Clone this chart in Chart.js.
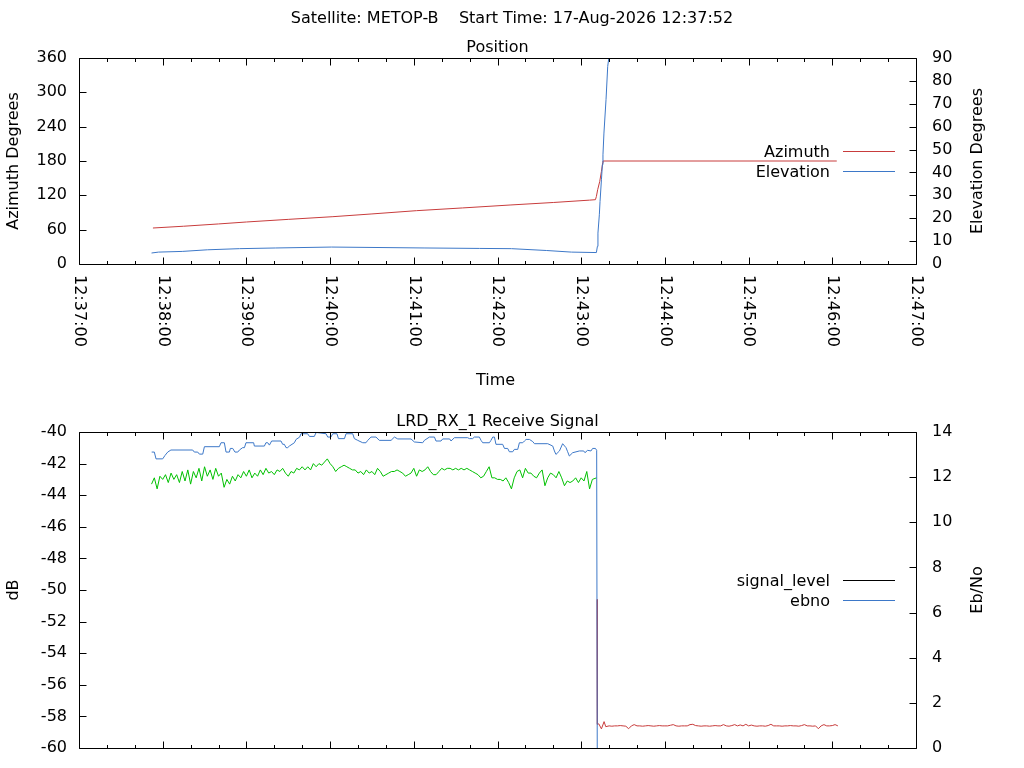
<!DOCTYPE html>
<html>
<head>
<meta charset="utf-8">
<title>METOP-B pass</title>
<script src="https://cdn.jsdelivr.net/npm/chart.js@4.4.1/dist/chart.umd.min.js"></script>
<style>
  html, body { margin: 0; padding: 0; background: #fff; }
  #wrap { position: relative; width: 1024px; height: 768px; overflow: hidden; }
  canvas { position: absolute; left: 0; top: 0; }
</style>
</head>
<body>
<div id="wrap">
  <canvas id="position-canvas" width="1024" height="768"></canvas>
  <canvas id="signal-canvas" width="1024" height="768"></canvas>
</div>
<script>
// Times are seconds after 12:37:00.
const timeTickValues = [0, 60, 120, 180, 240, 300, 360, 420, 480, 540, 600];
const timeTickLabels = ['12:37:00', '12:38:00', '12:39:00', '12:40:00', '12:41:00', '12:42:00',
  '12:43:00', '12:44:00', '12:45:00', '12:46:00', '12:47:00'];

// --- Position panel ---
const azimuthTimes = [53, 75, 100, 120, 150, 182, 210, 242, 275, 309, 340, 366,
  370.2, 370.9, 371.8, 373.3, 374.5, 375.4, 375.6, 543.2];
const azimuthDeg = [62.9, 66.0, 70.0, 73.4, 78.0, 82.7, 87.5, 93.2, 98.0, 103.1, 107.5, 111.6,
  112.4, 118.1, 129.8, 144.4, 161.8, 176.5, 180.0, 180.0];

const elevationTimes = [52, 57, 74, 92, 115, 141, 181, 248, 287, 310, 335, 353,
  370.9, 371.6, 372.0, 373.0, 373.5, 374.5, 375.2, 375.6, 376.3, 377.8, 379.0, 380.0];
const elevationDeg = [4.8, 5.2, 5.5, 6.2, 6.7, 7.0, 7.4, 7.0, 6.8, 6.7, 5.9, 5.2,
  5.0, 7.7, 13.5, 21.5, 27.3, 36.8, 43.4, 47.7, 57.2, 71.8, 86.3, 91.0];

// --- Receive signal panel (dB) ---
const blueTimes = [
  52.1, 54.0, 55.2, 60.0, 61.6, 63.6, 65.9, 81.5, 82.7, 85.1,
  86.3, 88.7, 89.9, 100.6, 101.8, 104.2, 105.4, 107.8, 108.5, 110.2,
  111.8, 113.8, 115.0, 117.3, 118.6, 119.7, 125.2, 125.7, 132.9, 134.0,
  135.3, 136.5, 138.1, 144.8, 146.0, 147.2, 148.4, 149.6, 150.8, 154.4,
  155.6, 158.2, 159.1, 163.9, 165.2, 168.7, 169.9, 171.1, 177.1, 178.3,
  180.6, 181.9, 184.9, 186.0, 190.3, 191.4, 196.2, 197.4, 199.8, 203.4,
  205.7, 207.0, 209.3, 212.9, 215.3, 223.7, 226.1, 228.5, 238.0, 240.4,
  246.4, 247.6, 251.2, 254.8, 255.9, 259.5, 260.7, 265.7, 266.7, 269.1,
  278.6, 279.9, 282.2, 283.4, 287.0, 288.2, 289.4, 294.2, 295.3, 296.6,
  297.8, 298.9, 303.7, 305.0, 307.3, 308.5, 310.9, 312.1, 314.5, 315.7,
  318.1, 319.3, 320.5, 322.9, 325.3, 326.5, 336.0, 339.6, 340.8, 341.9,
  344.4, 346.7, 349.1, 350.3, 351.5, 353.9, 358.7, 361.8, 362.7, 364.6,
  367.0, 368.2, 370.2, 371.1, 371.5];
const blueDb = [
  -41.27, -41.27, -41.70, -41.70, -41.49, -41.27, -41.14, -41.14, -41.27, -41.27,
  -41.40, -41.40, -40.93, -40.93, -40.68, -40.68, -41.27, -41.27, -41.04, -41.04,
  -41.27, -41.27, -41.14, -40.99, -40.99, -40.68, -40.68, -40.89, -40.89, -40.68,
  -40.68, -40.83, -40.57, -40.57, -40.78, -40.78, -40.99, -40.99, -40.89, -40.68,
  -40.47, -40.32, -40.11, -40.11, -40.28, -40.28, -40.04, -40.04, -40.11, -40.32,
  -40.32, -40.11, -40.11, -40.42, -40.42, -40.11, -40.11, -40.42, -40.53, -40.68,
  -40.68, -40.53, -40.32, -40.32, -40.53, -40.53, -40.32, -40.44, -40.44, -40.63,
  -40.68, -40.53, -40.32, -40.32, -40.57, -40.57, -40.44, -40.44, -40.57, -40.36,
  -40.36, -40.42, -40.42, -40.32, -40.32, -40.53, -40.68, -40.68, -40.53, -40.32,
  -40.32, -40.78, -40.78, -41.04, -41.04, -41.25, -41.25, -41.10, -41.10, -40.68,
  -40.68, -40.57, -40.47, -40.47, -40.61, -40.74, -40.74, -40.89, -41.20, -41.42,
  -41.20, -40.74, -40.99, -41.25, -41.52, -41.31, -41.20, -41.20, -41.31, -41.16,
  -41.20, -41.04, -41.04, -41.16, -60.0];

const greenTimes = [
  52, 54, 56, 58, 60, 62, 64, 66, 68, 70, 72, 74, 76, 78, 80, 82, 84, 86, 88, 90,
  92, 94, 96, 98, 100, 102, 104, 106, 108, 110, 112, 114, 116, 118, 120, 122, 124, 126, 128, 130,
  132, 134, 136, 138, 140, 142, 144, 146, 148, 150, 152, 154, 156, 158, 160, 162, 164, 166, 168, 170,
  172, 174, 176, 178, 180, 182, 184, 186, 188, 190, 192, 194, 196, 198, 200, 202, 204, 206, 208, 210,
  212, 214, 216, 218, 220, 222, 224, 226, 228, 230, 232, 234, 236, 238, 240, 242, 244, 246, 248, 250,
  252, 254, 256, 258, 260, 262, 264, 266, 268, 270, 272, 274, 276, 278, 280, 282, 284, 286, 288, 290,
  292, 294, 296, 298, 300, 302, 304, 306, 308, 310, 312, 314, 316, 318, 320, 322, 324, 326, 328, 330,
  332, 334, 336, 338, 340, 342, 344, 346, 348, 350, 352, 354, 356, 358, 360, 362, 364, 366, 368, 371];
const greenDb = [
  -43.3, -42.9, -43.6, -42.8, -43.0, -42.7, -43.2, -42.6, -43.0, -42.7,
  -43.2, -42.5, -43.1, -42.4, -43.3, -42.5, -42.9, -42.3, -43.1, -42.2,
  -42.8, -42.4, -43.0, -42.3, -42.8, -42.6, -43.5, -43.0, -43.3, -42.8,
  -43.1, -42.7, -42.9, -42.5, -42.8, -42.4, -42.9, -42.6, -42.8, -42.4,
  -42.7, -42.3, -42.6, -42.5, -42.7, -42.4, -42.5, -42.3, -42.6, -42.8,
  -42.5, -42.6, -42.3, -42.4, -42.2, -42.4, -42.2, -42.4, -42.0, -42.2,
  -42.0, -42.1, -41.9, -41.7, -42.0, -42.2, -42.5, -42.3, -42.2, -42.1,
  -42.2, -42.3, -42.4, -42.4, -42.6, -42.5, -42.7, -42.4, -42.6, -42.5,
  -42.7, -42.3, -42.5, -42.8, -42.7, -42.6, -42.5, -42.5, -42.4, -42.5,
  -42.6, -42.8, -42.7, -42.6, -42.3, -42.8, -42.4, -42.5, -42.4, -42.2,
  -42.5, -42.7, -42.7, -42.5, -42.3, -42.4, -42.3, -42.3, -42.4, -42.3,
  -42.4, -42.3, -42.4, -42.3, -42.4, -42.5, -42.6, -42.7, -42.9, -42.8,
  -42.5, -42.2, -42.9, -42.9, -43.0, -43.0, -43.1, -42.9, -43.2, -43.6,
  -42.9, -42.5, -42.4, -42.9, -42.3, -42.6, -42.6, -42.8, -42.9, -42.6,
  -42.4, -43.4, -42.9, -42.6, -42.7, -42.9, -42.5, -42.9, -43.4, -43.1,
  -43.2, -43.1, -42.9, -43.2, -42.9, -43.1, -42.5, -43.6, -43.0, -42.9];

const redTimes = [
  371.45, 371.6, 372.6, 374.5, 376.4, 377.6,
  380, 382, 384, 386, 388, 390, 392, 394, 396, 398, 400, 402, 404, 406, 408, 410, 412, 414, 416, 418,
  420, 422, 424, 426, 428, 430, 432, 434, 436, 438, 440, 442, 444, 446, 448, 450, 452, 454, 456, 458,
  460, 462, 464, 466, 468, 470, 472, 474, 476, 478, 480, 482, 484, 486, 488, 490, 492, 494, 496, 498,
  500, 502, 504, 506, 508, 510, 512, 514, 516, 518, 520, 522, 524, 526, 528, 530, 532, 534, 536, 538,
  540, 542, 544];
const redDb = [
  -50.6, -58.5, -58.47, -58.79, -58.33, -58.65,
  -58.6, -58.62, -58.6, -58.6, -58.58, -58.6, -58.62, -58.78, -58.6, -58.52,
  -58.6, -58.6, -58.62, -58.6, -58.58, -58.6, -58.62, -58.6, -58.58, -58.6,
  -58.6, -58.6, -58.56, -58.52, -58.6, -58.62, -58.6, -58.6, -58.6, -58.52,
  -58.5, -58.58, -58.6, -58.62, -58.6, -58.6, -58.62, -58.6, -58.58, -58.6,
  -58.6, -58.52, -58.6, -58.62, -58.58, -58.52, -58.6, -58.54, -58.6, -58.5,
  -58.6, -58.55, -58.6, -58.62, -58.6, -58.6, -58.62, -58.58, -58.5, -58.6,
  -58.6, -58.6, -58.62, -58.6, -58.6, -58.58, -58.6, -58.6, -58.62, -58.58,
  -58.52, -58.6, -58.6, -58.62, -58.6, -58.78, -58.6, -58.52, -58.6, -58.6,
  -58.58, -58.52, -58.6];

const positionLegendLabels = ['Azimuth', 'Elevation'];
const signalLegendLabels = ['signal_level', 'ebno'];

const RED = '#c83c3c';
const BLUE = '#3d78c8';
const GREEN = '#00c000';
const FONT_SIZE = 16;
const FONT = `${FONT_SIZE}px 'DejaVu Sans', sans-serif`;
const MAJOR_TICK = 7;
const MINOR_TICK = 3.5;

Chart.defaults.font.family = "'DejaVu Sans', sans-serif";
Chart.defaults.font.size = FONT_SIZE;
Chart.defaults.color = '#000';

function points(times, values) {
  return times.map((t, i) => ({ x: t, y: values[i] }));
}

function line(label, times, values, color, axis) {
  return {
    label,
    data: points(times, values),
    borderColor: color,
    backgroundColor: color,
    borderWidth: 1,
    pointRadius: 0,
    tension: 0,
    yAxisID: axis,
  };
}

function drawRotated(ctx, text, x, y, angle) {
  ctx.save();
  ctx.translate(x, y);
  ctx.rotate(angle);
  ctx.fillText(text, 0, 0);
  ctx.restore();
}

// gnuplot look: boxed frame, inward ticks, rotated titles, key on the right.
// Built per chart so the settings stay plain JS (not run through the option resolver).
function gnuplotFrame(cfg) {
  return {
    id: 'gnuplotFrame',
    afterDraw(chart) {
      const { ctx, chartArea: area } = chart;
      const xScale = chart.scales.x;
      const left = area.left + 0.5;
      const right = area.right + 0.5;
      const top = area.top + 0.5;
      const bottom = area.bottom + 0.5;
      const midX = (area.left + area.right) / 2;
      const midY = (area.top + area.bottom) / 2;

      ctx.save();
      ctx.strokeStyle = '#000';
      ctx.lineWidth = 1;
      ctx.beginPath();
      ctx.rect(left, top, right - left, bottom - top);
      for (const tick of xScale.ticks) {
        const px = Math.round(xScale.getPixelForValue(tick.value)) + 0.5;
        const len = timeTickValues.includes(tick.value) ? MAJOR_TICK : MINOR_TICK;
        ctx.moveTo(px, bottom);
        ctx.lineTo(px, bottom - len);
        ctx.moveTo(px, top);
        ctx.lineTo(px, top + len);
      }
      for (const id of ['y', 'y2']) {
        const s = chart.scales[id];
        const edge = id === 'y' ? left : right;
        const dir = id === 'y' ? 1 : -1;
        for (const tick of s.ticks) {
          const py = Math.round(s.getPixelForValue(tick.value)) + 0.5;
          ctx.moveTo(edge, py);
          ctx.lineTo(edge + dir * MAJOR_TICK, py);
        }
      }
      ctx.stroke();

      ctx.fillStyle = '#000';
      ctx.font = FONT;
      ctx.textAlign = 'center';
      ctx.textBaseline = 'alphabetic';
      if (cfg.heading) ctx.fillText(cfg.heading, chart.width / 2, 23);
      ctx.fillText(cfg.title, midX, area.top - 6.5);
      if (cfg.xTitle) ctx.fillText(cfg.xTitle, midX - 2, 385);
      drawRotated(ctx, cfg.yTitle, 18, midY, -Math.PI / 2);
      drawRotated(ctx, cfg.y2Title, 982, midY, -Math.PI / 2);

      if (cfg.timeLabels) {
        ctx.textAlign = 'left';
        ctx.textBaseline = 'middle';
        timeTickValues.forEach((v, i) => {
          drawRotated(ctx, timeTickLabels[i], xScale.getPixelForValue(v), area.bottom + 11, Math.PI / 2);
        });
      }

      const rowGap = 19.3;
      const y0 = midY - rowGap * (cfg.legend.length - 1) / 2;
      ctx.textAlign = 'right';
      ctx.textBaseline = 'alphabetic';
      cfg.legend.forEach((label, i) => {
        const y = Math.round(y0 + i * rowGap) + 0.5;
        ctx.fillStyle = '#000';
        ctx.fillText(label, area.right - 86, y + 5);
        ctx.strokeStyle = cfg.legendColors[i];
        ctx.beginPath();
        ctx.moveTo(area.right - 73, y);
        ctx.lineTo(area.right - 21, y);
        ctx.stroke();
      });
      ctx.restore();
    },
  };
}

function timeAxis(height) {
  return {
    type: 'linear',
    position: 'bottom',
    min: 0,
    max: 600,
    ticks: { display: false, stepSize: 20 },
    grid: { display: false, drawTicks: false },
    border: { display: false },
    afterFit: (s) => { s.height = height; },
  };
}

// Label gap comes from the (hidden) tick length so it does not add layout padding.
function valueAxis(position, min, max, step, width, gap) {
  return {
    type: 'linear',
    position,
    min,
    max,
    ticks: { stepSize: step, padding: 0, font: { size: FONT_SIZE } },
    grid: { display: false, drawTicks: true, tickLength: gap },
    border: { display: false },
    afterFit: (s) => { s.width = width; },
  };
}

function baseOptions(topPad, xHeight, yAxis, y2Axis) {
  return {
    responsive: false,
    animation: false,
    devicePixelRatio: 1,
    layout: { padding: { top: topPad, left: 0, right: 0, bottom: 0 } },
    scales: { x: timeAxis(xHeight), y: yAxis, y2: y2Axis },
    plugins: {
      legend: { display: false },
      tooltip: { enabled: false },
    },
  };
}

new Chart(document.getElementById('position-canvas'), {
  type: 'line',
  data: {
    datasets: [
      line('Elevation', elevationTimes, elevationDeg, BLUE, 'y2'),
      line('Azimuth', azimuthTimes, azimuthDeg, RED, 'y'),
    ],
  },
  options: baseOptions(58, 504,
    valueAxis('left', 0, 360, 60, 79, 12),
    valueAxis('right', 0, 90, 10, 108, 16)),
  plugins: [gnuplotFrame({
    heading: 'Satellite: METOP-B    Start Time: 17-Aug-2026 12:37:52',
    title: 'Position',
    xTitle: 'Time',
    yTitle: 'Azimuth Degrees',
    y2Title: 'Elevation Degrees',
    timeLabels: true,
    legend: positionLegendLabels,
    legendColors: [RED, BLUE],
  })],
});

new Chart(document.getElementById('signal-canvas'), {
  type: 'line',
  data: {
    datasets: [
      line('ebno', blueTimes, blueDb, BLUE, 'y'),
      line('signal_level', greenTimes, greenDb, GREEN, 'y'),
      line('signal_level_los', redTimes, redDb, RED, 'y'),
    ],
  },
  options: baseOptions(432, 20,
    valueAxis('left', -60, -40, 2, 79, 12),
    valueAxis('right', 0, 14, 2, 108, 16)),
  plugins: [gnuplotFrame({
    title: 'LRD_RX_1 Receive Signal',
    yTitle: 'dB',
    y2Title: 'Eb/No',
    timeLabels: false,
    legend: signalLegendLabels,
    legendColors: ['#000', BLUE],
  })],
});
</script>
</body>
</html>
